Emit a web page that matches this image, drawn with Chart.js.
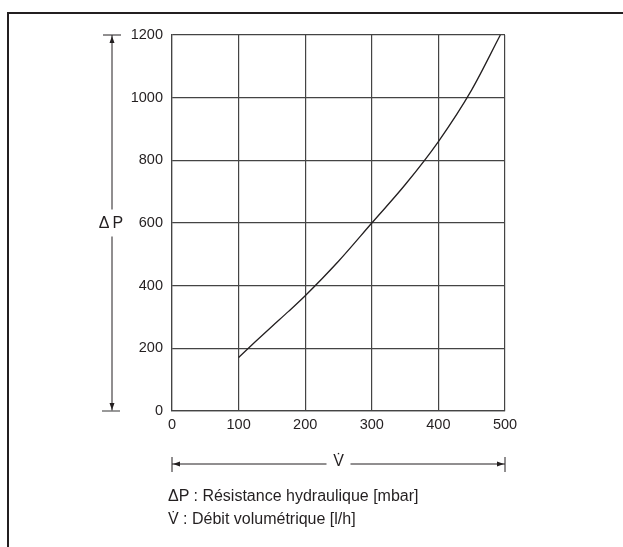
<!DOCTYPE html>
<html lang="fr">
<head>
  <meta charset="UTF-8" />
  <title>Résistance hydraulique</title>
  <script src="https://cdn.jsdelivr.net/npm/chart.js"></script>
  <style>
    html, body {
      margin: 0;
      padding: 0;
      background: #fff;
    }
    #wrap {
      position: relative;
      width: 623px;
      height: 547px;
      overflow: hidden;
      font-family: 'Liberation Sans', Arial, sans-serif;
    }
    #frameTop {
      position: absolute;
      left: 7px;
      top: 12px;
      width: 700px;
      height: 2px;
      background: #231f20;
    }
    #frameLeft {
      position: absolute;
      left: 7px;
      top: 12px;
      width: 2px;
      height: 600px;
      background: #231f20;
    }
    #chart {
      position: absolute;
      left: 0;
      top: 0;
    }
    .legend {
      position: absolute;
      left: 168px;
      font-size: 16px;
      color: #231f20;
      white-space: nowrap;
    }
  </style>
</head>
<body>
  <div id="wrap">
    <div id="frameTop"></div>
    <div id="frameLeft"></div>
    <canvas id="chart" width="623" height="547"></canvas>
    <div class="legend" style="top:487px">ΔP : Résistance hydraulique [mbar]</div>
    <div class="legend" style="top:510px">V̇ : Débit volumétrique [l/h]</div>
  </div>
  <script>
    // valeurs
    const flowRate = [100, 125, 150, 175, 200, 250, 300, 350, 400, 450, 493];
    const pressureDrop = [171, 221, 270, 318, 368, 478, 600, 722, 860, 1025, 1200];
    const xTicks = [0, 100, 200, 300, 400, 500];
    const yTicks = [0, 200, 400, 600, 800, 1000, 1200];

    const ink = '#231f20';
    const gridColor = '#444';
    const fontFamily = "'Liberation Sans', Arial, sans-serif";

    function arrow(ctx, x, y, dx, dy) {
      // pointe de flèche pleine, sommet en (x, y)
      const len = 7, half = 2.5;
      const px = -dy, py = dx;
      ctx.beginPath();
      ctx.moveTo(x, y);
      ctx.lineTo(x - dx * len + px * half, y - dy * len + py * half);
      ctx.lineTo(x - dx * len - px * half, y - dy * len - py * half);
      ctx.closePath();
      ctx.fill();
    }

    const dimLines = {
      id: 'dimLines',
      afterDraw(chart) {
        const ctx = chart.ctx;
        const xs = chart.scales.x, ys = chart.scales.y;
        const top = ys.getPixelForValue(yTicks[yTicks.length - 1]);
        const bot = ys.getPixelForValue(yTicks[0]);
        const left = xs.getPixelForValue(xTicks[0]);
        const right = xs.getPixelForValue(xTicks[xTicks.length - 1]);
        ctx.save();
        ctx.strokeStyle = ink;
        ctx.fillStyle = ink;
        ctx.lineWidth = 1;

        // cote verticale ΔP
        const vx = 112;
        const midY = (top + bot) / 2 + 0.5;
        ctx.beginPath();
        ctx.moveTo(vx, top); ctx.lineTo(vx, midY - 14);
        ctx.moveTo(vx, midY + 13); ctx.lineTo(vx, bot);
        ctx.moveTo(103, top); ctx.lineTo(121, top);
        ctx.stroke();
        ctx.strokeStyle = '#777';
        ctx.lineWidth = 1.5;
        ctx.beginPath();
        ctx.moveTo(102, bot); ctx.lineTo(120, bot);
        ctx.stroke();
        arrow(ctx, vx, top + 1, 0, -1);
        arrow(ctx, vx, bot - 1, 0, 1);
        ctx.font = '16px ' + fontFamily;
        ctx.textAlign = 'center';
        ctx.textBaseline = 'middle';
        ctx.fillText('Δ\u2009P', vx - 1, midY);

        // cote horizontale V̇
        const hy = 464;
        const midX = (left + right) / 2;
        ctx.strokeStyle = ink;
        ctx.lineWidth = 1;
        ctx.beginPath();
        ctx.moveTo(left, hy); ctx.lineTo(midX - 12, hy);
        ctx.moveTo(midX + 12, hy); ctx.lineTo(right, hy);
        ctx.moveTo(left, hy - 7); ctx.lineTo(left, hy + 8);
        ctx.moveTo(right, hy - 7); ctx.lineTo(right, hy + 8);
        ctx.stroke();
        arrow(ctx, left + 1, hy, -1, 0);
        arrow(ctx, right - 1, hy, 1, 0);
        ctx.fillText('V̇', midX, hy - 2);
        ctx.restore();
      }
    };

    new Chart(document.getElementById('chart'), {
      type: 'line',
      data: {
        datasets: [{
          data: flowRate.map((v, i) => ({ x: v, y: pressureDrop[i] })),
          borderColor: ink,
          borderWidth: 1.3,
          pointRadius: 0,
          fill: false,
          cubicInterpolationMode: 'monotone'
        }]
      },
      options: {
        responsive: false,
        animation: false,
        layout: {
          padding: { left: 122, right: 118, top: 35, bottom: 106 }
        },
        plugins: {
          legend: { display: false },
          tooltip: { enabled: false }
        },
        scales: {
          x: {
            type: 'linear',
            min: xTicks[0],
            max: xTicks[xTicks.length - 1],
            afterBuildTicks: s => { s.ticks = xTicks.map(v => ({ value: v })); },
            afterFit: s => { s.height = 30; },
            grid: { color: gridColor, lineWidth: 1.2, drawTicks: false },
            border: { color: gridColor, width: 1.2 },
            ticks: {
              padding: 5,
              color: ink,
              callback: v => String(v),
              font: { family: fontFamily, size: 14.5 }
            }
          },
          y: {
            min: yTicks[0],
            max: yTicks[yTicks.length - 1],
            afterBuildTicks: s => { s.ticks = yTicks.map(v => ({ value: v })); },
            afterFit: s => { s.width = 50; },
            grid: { color: gridColor, lineWidth: 1.2, drawTicks: false },
            border: { color: gridColor, width: 1.2 },
            ticks: {
              padding: 9,
              color: ink,
              callback: v => String(v),
              font: { family: fontFamily, size: 14.5 }
            }
          }
        }
      },
      plugins: [dimLines]
    });
  </script>
</body>
</html>
